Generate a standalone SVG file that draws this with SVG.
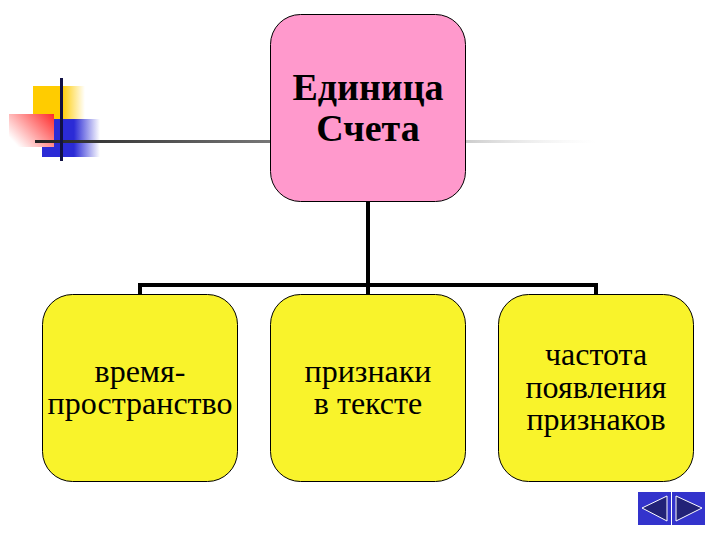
<svg xmlns="http://www.w3.org/2000/svg" width="720" height="540" viewBox="0 0 720 540">
<style>
.n{stroke:#000;stroke-width:1}
.y{fill:#f9f32b}
.t{font-family:"Liberation Serif",serif;text-anchor:middle;fill:#000}
.s{font-size:32px}
.b{font-size:38px;font-weight:bold}
.c{fill:none;stroke:#000;stroke-width:4}
</style>
<defs>
<linearGradient id="gy" x1="0" x2="1" y1="0" y2="0"><stop offset="0" stop-color="#ffcc00"/><stop offset="0.55" stop-color="#ffcc00"/><stop offset="1" stop-color="#ffcc00" stop-opacity="0"/></linearGradient>
<linearGradient id="gb" x1="0" x2="1" y1="0" y2="0"><stop offset="0" stop-color="#2b2bd6"/><stop offset="0.55" stop-color="#2b2bd6"/><stop offset="1" stop-color="#2b2bd6" stop-opacity="0"/></linearGradient>
<linearGradient id="gr" x1="1" x2="0" y1="0" y2="0.7"><stop offset="0" stop-color="#ff2a2a"/><stop offset="1" stop-color="#ff2a2a" stop-opacity="0"/></linearGradient>
<linearGradient id="gl" x1="0" x2="1" y1="0" y2="0"><stop offset="0" stop-color="#222"/><stop offset="1" stop-color="#777"/></linearGradient>
<linearGradient id="gf" x1="0" x2="1" y1="0" y2="0"><stop offset="0" stop-color="#ccc"/><stop offset="1" stop-color="#eee" stop-opacity="0"/></linearGradient>
</defs>
<g id="decoration">
<rect x="33" y="86" width="52" height="34" fill="url(#gy)"/>
<rect x="42" y="119" width="58" height="38" fill="url(#gb)"/>
<rect x="9" y="114" width="45" height="33" fill="#fff"/>
<rect x="9" y="114" width="45" height="33" fill="url(#gr)"/>
<rect x="35" y="140" width="235" height="3" fill="url(#gl)"/>
<rect x="466" y="140" width="130" height="3" fill="url(#gf)"/>
<rect x="60" y="78" width="3" height="83" fill="#111144"/>
</g>
<g id="connectors">
<path class="c" d="M368 201V285"/>
<path class="c" d="M140 295V285H596V295M368 285V295"/>
</g>
<g id="node-root">
<rect class="n" x="270.500" y="14.500" width="195" height="187" rx="30" fill="#ff99cc"/>
<text class="t b" x="368" y="100">Единица</text>
<text class="t b" x="368" y="141">Счета</text>
</g>
<g id="node-1">
<rect class="n y" x="42.500" y="294.500" width="195" height="187" rx="30"/>
<text class="t s" x="140" y="382">время-</text>
<text class="t s" x="140" y="414">пространство</text>
</g>
<g id="node-2">
<rect class="n y" x="270.500" y="294.500" width="195" height="187" rx="30"/>
<text class="t s" x="368" y="382">признаки</text>
<text class="t s" x="368" y="414">в тексте</text>
</g>
<g id="node-3">
<rect class="n y" x="498.500" y="294.500" width="195" height="187" rx="30"/>
<text class="t s" x="596" y="365">частота</text>
<text class="t s" x="596" y="398">появления</text>
<text class="t s" x="596" y="430">признаков</text>
</g>
<g id="nav">
<rect x="638" y="492" width="33" height="33" fill="#3333cc"/>
<rect x="672" y="492" width="33" height="33" fill="#3333cc"/>
<path d="M667 496V521L642 508Z" fill="#222277" stroke="#fff"/>
<path d="M676 496V521L702 508Z" fill="#222277" stroke="#fff"/>
</g>
</svg>
